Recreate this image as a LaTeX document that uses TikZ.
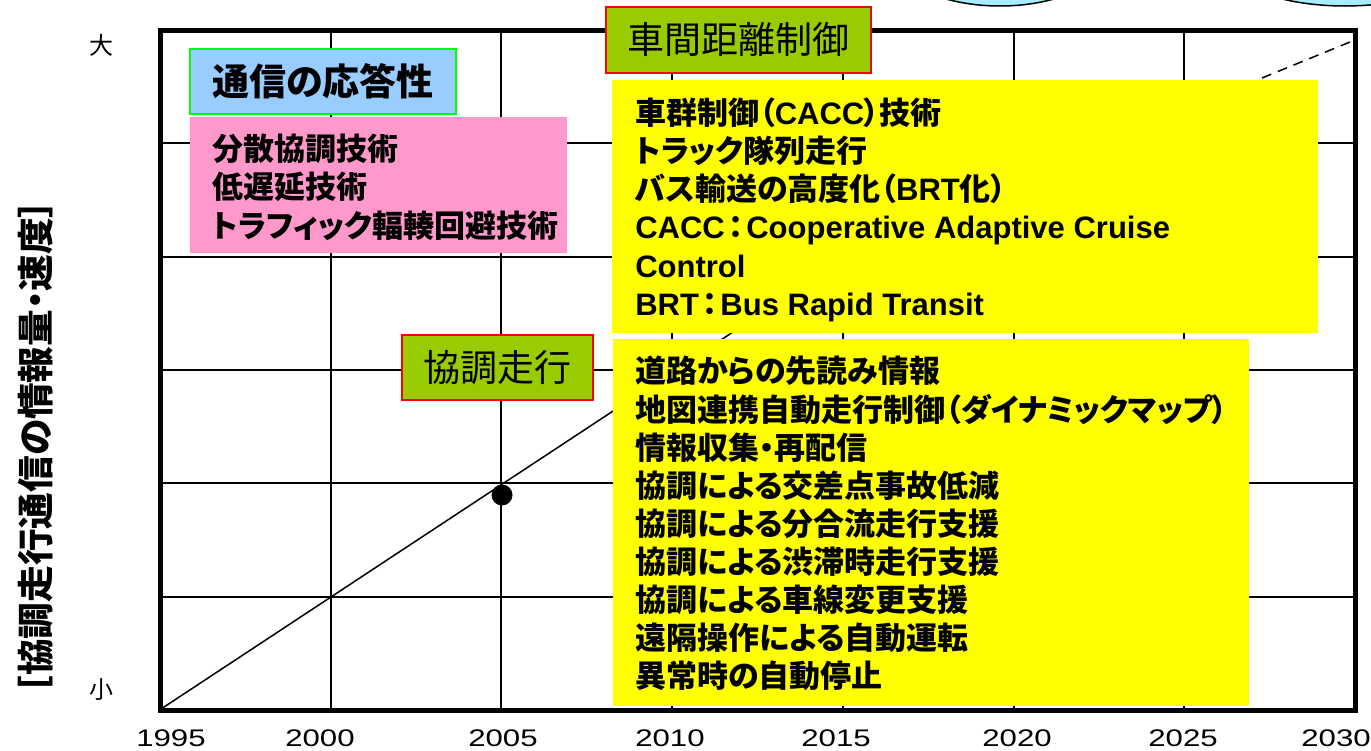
\documentclass[tikz,border=0pt]{standalone}
\usepackage{fontspec}
\newfontfamily\jp[RawFeature=+palt]{Noto Sans CJK JP}
\newfontfamily\jpn{Noto Sans CJK JP}
\newfontfamily\lat{Liberation Sans}
\newfontfamily\num[FakeStretch=1.3]{Liberation Sans}
\newlength\px \setlength\px{0.75pt}
\newcommand\La[1]{{\lat #1}}
\newcommand\Col{\hspace{3\px}{\jp ：}\hspace{3\px}}
\definecolor{ybg}{HTML}{FFFF00}
\definecolor{pbg}{HTML}{FF99CC}
\definecolor{bbg}{HTML}{99CCFF}
\definecolor{gbd}{HTML}{00FF00}
\definecolor{obg}{HTML}{99CC00}
\definecolor{rbd}{HTML}{FF0000}
\definecolor{cbg}{HTML}{A6EEFF}
\tikzset{
  gridline/.style={line width=2\px, black},
  frameline/.style={line width=5\px, black},
  boxfill/.style={inner sep=0pt, anchor=north west},
  listtext/.style={inner sep=0pt, align=left, anchor=west, font=\jp\bfseries\fontsize{23.25pt}{28.6pt}\selectfont},
  titlebox/.style={draw=rbd, line width=1.5\px, fill=obg, inner sep=0pt, font=\jpn\fontsize{27.75pt}{30pt}\selectfont, anchor=north west},
  yearlabel/.style={font=\num\fontsize{18pt}{20pt}\selectfont, inner sep=0pt},
  scalelabel/.style={font=\jpn\fontsize{18pt}{20pt}\selectfont, inner sep=0pt},
}
\begin{document}
\begin{tikzpicture}[x=0.75pt, y=-0.75pt]
\useasboundingbox (0,0) rectangle (1371,750);
% top ellipses (partially visible)
\begin{scope}
\clip (0,0) rectangle (1371,750);
\draw[line width=1.5\px, fill=cbg] (1000,-60) ellipse [x radius=120, y radius=66];
\draw[line width=1.5\px, fill=cbg] (1345,-60) ellipse [x radius=140, y radius=66];
\end{scope}
% grid
\foreach \i in {1,...,6} { \draw[gridline] ({160+\i*170.714},30) -- ({160+\i*170.714},710); }
\foreach \j in {1,...,5} { \draw[gridline] (160,{30+\j*113.333}) -- (1355,{30+\j*113.333}); }
\draw[frameline] (160,30) rectangle (1355,710);
% trend line
\coordinate (l0) at (161,709);
\coordinate (l1) at (1000,156);
\coordinate (d0) at (1262,78);
\coordinate (d1) at (1350,42);
\draw[line width=1.5\px] (l0) -- (l1);
\draw[line width=1.5\px, dash pattern=on 10\px off 7\px] (d0) -- (d1);
\node[circle, fill=black, inner sep=0pt, minimum size=21\px] (dot) at (502,495) {};
% boxes
\node[draw=gbd, line width=2\px, fill=bbg, inner sep=0pt, minimum width=266\px, minimum height=65\px, anchor=north west,
      font=\jp\bfseries\fontsize{27.75pt}{30pt}\selectfont] (resp) at (189,48) {通信の応答性};
\node[boxfill, fill=pbg, minimum width=377\px, minimum height=136\px] (pink) at (190,117) {};
\node[listtext] (pinkt) at ([xshift=22\px, yshift=-2\px]pink.west)
  {分散協調技術\\低遅延技術\\トラフィック輻輳回避技術};
\node[titlebox, minimum width=265\px, minimum height=66\px] (gap) at (605,6) {車間距離制御};
\node[boxfill, fill=ybg, minimum width=706\px, minimum height=253\px] (y1) at (612,80) {};
\node[listtext] (y1t) at ([xshift=23\px, yshift=-3\px]y1.west)
  {車群制御（\La{CACC}）技術\\トラック隊列走行\\バス輸送の高度化（\La{BRT}化）\\\La{CACC}\Col\La{Cooperative Adaptive Cruise}\\\La{Control}\\\La{BRT}\Col\La{Bus Rapid Transit}};
\node[titlebox, minimum width=191\px, minimum height=65\px] (coop) at (401,334) {協調走行};
\node[boxfill, fill=ybg, minimum width=636\px, minimum height=367\px] (y2) at (613,339) {};
\node[listtext] (y2t) at ([xshift=22\px, yshift=-1\px]y2.west)
  {道路からの先読み情報\\地図連携自動走行制御（ダイナミックマップ）\\情報収集・再配信\\協調による交差点事故低減\\協調による分合流走行支援\\協調による渋滞時走行支援\\協調による車線変更支援\\遠隔操作による自動運転\\異常時の自動停止};
% axis labels
\node[scalelabel] (big) at (101,45) {大};
\node[scalelabel] (small) at (101,690) {小};
\node[rotate=90, inner sep=0pt, font=\jp\bfseries\fontsize{27.5pt}{30pt}\selectfont] (ylab) at (36,447) {{\jpn［}協調走行通信の情報量・速度{\jpn ］}};
\node[yearlabel] (y1995) at (171,738) {1995};
\node[yearlabel] (y2000) at (320,738) {2000};
\node[yearlabel] (y2005) at (503,738) {2005};
\node[yearlabel] (y2010) at (670,738) {2010};
\node[yearlabel] (y2015) at (836,738) {2015};
\node[yearlabel] (y2020) at (1017,738) {2020};
\node[yearlabel] (y2025) at (1183,738) {2025};
\node[yearlabel] (y2030) at (1336,738) {2030};
\end{tikzpicture}
\end{document}
